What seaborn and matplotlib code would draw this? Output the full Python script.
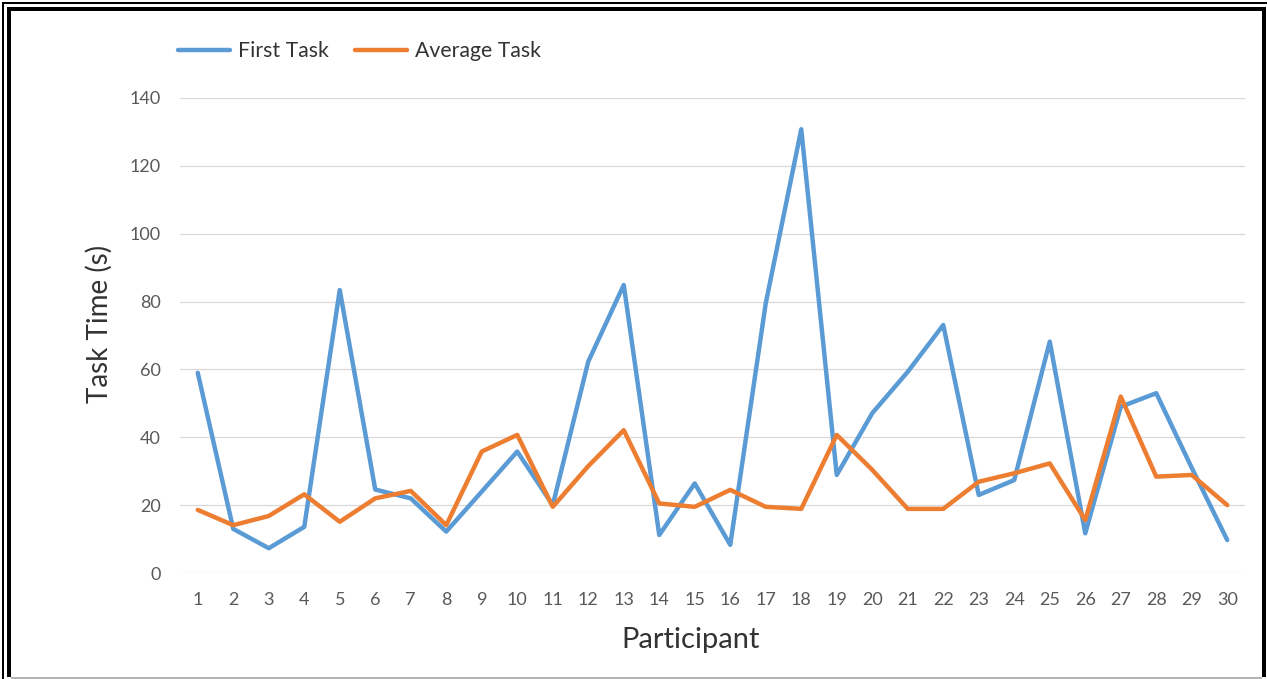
import matplotlib
matplotlib.use("Agg")
import matplotlib.pyplot as plt
import pandas as pd
import seaborn as sns
from matplotlib.lines import Line2D

# Task completion times per participant (seconds)
participants = list(range(1, 31))
first_task = [59, 13, 7.3, 13.6, 83.4, 24.6, 22, 12.2, 24, 35.8,
              20, 62.3, 84.9, 11.2, 26.4, 8.3, 79.5, 130.8, 28.9, 47.1,
              59.3, 73.1, 23, 27.4, 68.2, 11.7, 49, 53, 31, 9.7]
average_task = [18.6, 14.1, 16.8, 23.2, 15.1, 22, 24.2, 14.1, 35.8, 40.7,
                19.5, 31.5, 42.1, 20.5, 19.5, 24.5, 19.5, 18.9, 40.7, 30.4,
                18.9, 18.9, 26.9, 29.4, 32.3, 15.6, 52, 28.4, 28.9, 20]
series_names = ["First Task", "Average Task"]
y_ticks = [0, 20, 40, 60, 80, 100, 120, 140]

colors = {"First Task": "#5B9BD5", "Average Task": "#ED7D31"}

df = pd.concat([
    pd.DataFrame({"Participant": participants, "Time": first_task, "Series": series_names[0]}),
    pd.DataFrame({"Participant": participants, "Time": average_task, "Series": series_names[1]}),
])

sns.set_theme(style="white")
plt.rcParams["font.family"] = ["Lato", "DejaVu Sans"]

W, H = 1267, 679
fig = plt.figure(figsize=(W / 100, H / 100), dpi=100)
fig.patch.set_facecolor("white")

# plot area in pixels: left 180, right 1245, top 98, bottom 573
ax = fig.add_axes([180 / W, (H - 573) / H, 1065 / W, 475 / H])

LW = 3.2
sns.lineplot(data=df, x="Participant", y="Time", hue="Series",
             palette=colors, linewidth=LW, ax=ax, legend=False,
             estimator=None, sort=False)

ax.set_xlim(0.5, 30.5)
ax.set_ylim(0, 140)
ax.set_yticks(y_ticks)
ax.set_xticks(participants)
ax.set_xticklabels([str(p) for p in participants])
ax.grid(axis="y", color="#D9D9D9", linewidth=0.9)
ax.grid(axis="x", visible=False)
ax.set_axisbelow(True)
for s in ax.spines.values():
    s.set_visible(False)
ax.tick_params(axis="both", length=0, labelsize=13, labelcolor="#595959")
ax.tick_params(axis="y", pad=14)
ax.tick_params(axis="x", pad=14)

ax.set_xlabel("Participant", fontsize=21, color="#333333")
ax.set_ylabel("Task Time (s)", fontsize=20, color="#333333")
ax.xaxis.label.set_va("center")
ax.yaxis.label.set_va("center")
ax.xaxis.set_label_coords((691 - 180) / 1065, (573 - 640) / 475)
ax.yaxis.set_label_coords((99 - 180) / 1065, (573 - 324) / 475)

handles = [Line2D([], [], color=colors[n], linewidth=LW) for n in series_names]
fig.legend(handles, series_names, loc="center left",
           bbox_to_anchor=(178 / W, 1 - 51 / H), ncol=2, frameon=False,
           fontsize=15.3, handlelength=2.45, handletextpad=0.37,
           columnspacing=1.22, borderpad=0, borderaxespad=0,
           labelcolor="#333333")


def px_line(x0, y0, x1, y1, lw_px, color):
    fig.add_artist(Line2D([x0 / W, x1 / W], [1 - y0 / H, 1 - y1 / H],
                          transform=fig.transFigure, color=color,
                          linewidth=lw_px * 0.72, solid_capstyle="butt"))


# double page frame
px_line(2.5, 1.5, 2.5, H, 2, "black")
px_line(1.5, 2.5, W, 2.5, 2, "black")
px_line(9, 7, 9, 677, 4, "black")
px_line(7, 9, 1265.5, 9, 4, "black")
px_line(1263.5, 7, 1263.5, 677, 4, "black")
px_line(11, 677.5, 1261.5, 677.5, 1.5, "#9a9a9a")

fig.savefig("out.png", dpi=100)
